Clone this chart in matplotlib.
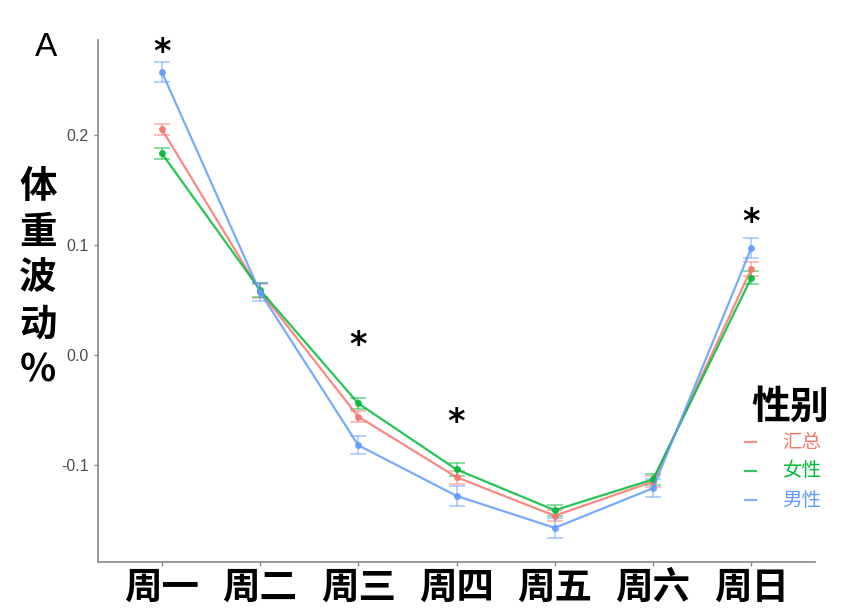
import matplotlib
matplotlib.use("Agg")
import matplotlib.pyplot as plt
from matplotlib.lines import Line2D

plt.rcParams['font.family'] = ['Noto Sans CJK SC', 'DejaVu Sans']

days = ['周一', '周二', '周三', '周四', '周五', '周六', '周日']
groups = ['汇总', '女性', '男性']
total_vals = [0.205, 0.058, -0.056, -0.111, -0.146, -0.115, 0.078]
female_vals = [0.183, 0.059, -0.044, -0.104, -0.141, -0.113, 0.070]
male_vals = [0.257, 0.057, -0.082, -0.128, -0.157, -0.121, 0.097]
total_err = [0.005, 0.006, 0.005, 0.006, 0.005, 0.005, 0.006]
female_err = [0.005, 0.006, 0.005, 0.006, 0.005, 0.005, 0.006]
male_err = [0.009, 0.008, 0.008, 0.009, 0.009, 0.008, 0.009]
star_days = ['周一', '周三', '周四', '周日']
star_y = [0.286, 0.020, -0.050, 0.132]
y_ticks = [-0.1, 0.0, 0.1, 0.2]
y_ticklabels = ['-0.1', '0.0', '0.1', '0.2']

colors = ['#F8766D', '#00BA38', '#619CFF']
series = [total_vals, female_vals, male_vals]
errs = [total_err, female_err, male_err]

fig = plt.figure(figsize=(8.68, 6.10), dpi=100)
ax = fig.add_axes([0.1129, 0.0787, 0.8261, 0.8557])

x = list(range(len(days)))
for vals, err, c in zip(series, errs, colors):
    ax.errorbar(x, vals, yerr=err, fmt='none', ecolor=c, alpha=0.55,
                elinewidth=1.2, capsize=6, capthick=1.2, zorder=2)
    ax.plot(x, vals, color=c, lw=1.6, marker='o', ms=4, zorder=3, alpha=0.85)

for d, yv in zip(star_days, star_y):
    ax.annotate('*', (days.index(d), yv), xytext=(0, -9), textcoords='offset points',
                ha='center', va='center', fontsize=24, fontweight='bold',
                family='DejaVu Sans', color='black', annotation_clip=False)

ax.set_xlim(-0.65, 6.65)
ax.set_ylim(-0.188, 0.286)
ax.set_xticks(x)
ax.set_xticklabels(days, fontsize=27, fontweight='bold', color='black')
ax.set_yticks(y_ticks)
ax.set_yticklabels(y_ticklabels, fontsize=11.5, color='#4D4D4D', family='Liberation Sans')
ax.tick_params(axis='both', color='#888888', length=3, width=1)
ax.tick_params(axis='x', pad=1)
for s in ['top', 'right']:
    ax.spines[s].set_visible(False)
for s in ['left', 'bottom']:
    ax.spines[s].set_color('#888888')
    ax.spines[s].set_linewidth(1.2)

fig.text(46/868, 1-47/610, 'A', fontsize=24, ha='center', va='center', family='Liberation Sans')
fig.text(38/868, 1-278/610, '体\n重\n波\n动\n%', fontsize=27, fontweight='bold',
         ha='center', va='center', linespacing=1.22)

fig.text(790/868, 1-407/610, '性别', fontsize=28, fontweight='bold', ha='center', va='center')
leg_y = [442, 471, 500]
for g, c, yy in zip(groups, colors, leg_y):
    fig.add_artist(Line2D([745/868, 756/868], [1-yy/610, 1-yy/610], color=c, lw=1.6, alpha=0.8))
    fig.text(802/868, 1-yy/610, g, fontsize=14, color=c, ha='center', va='center')

fig.savefig('out.png', dpi=100)
